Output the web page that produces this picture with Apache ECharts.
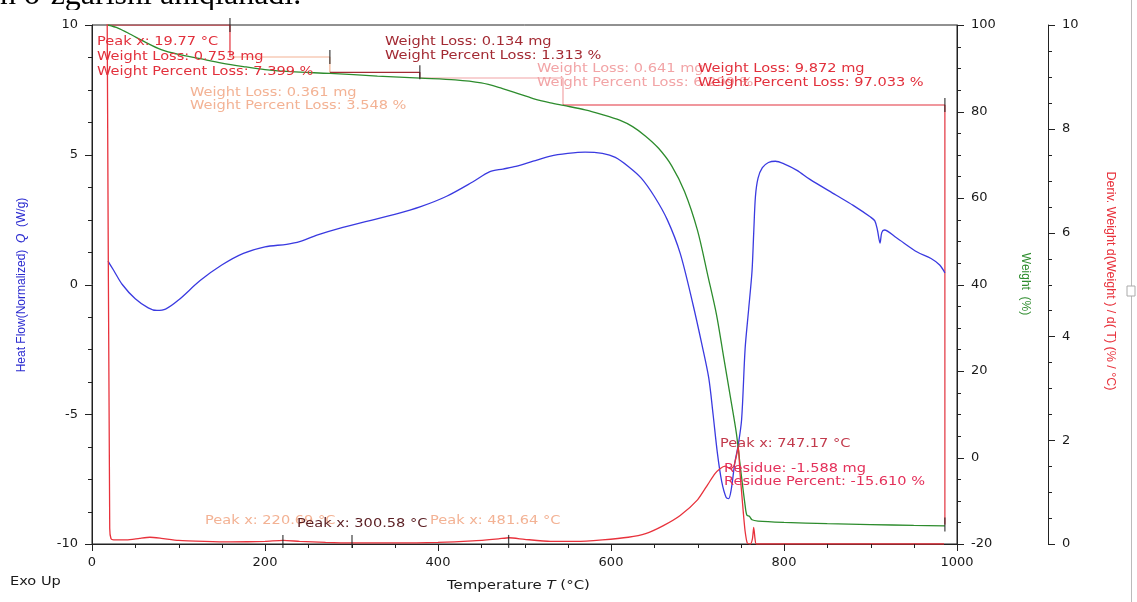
<!DOCTYPE html>
<html>
<head>
<meta charset="utf-8">
<script src="https://cdn.jsdelivr.net/npm/echarts@6/dist/echarts.min.js"></script>
<style>
html,body{margin:0;padding:0;background:#fff;}
#chart{width:1137px;height:602px;}
</style>
</head>
<body>
<div id="chart"></div>
<script>
// ---- Data ----
// Heat flow (W/g) vs temperature (°C)
const heatFlowT = [18.5,25,35,50,65,75,85,100,125,150,175,200,225,240,260,290,320,350,380,410,440,460,475,490,510,530,550,570,590,605,620,635,650,665,680,695,705,713,718,723,728,733,736,739,743,747,751,755,759,763,765,767,770,775,782,790,800,815,830,860,880,900,905,908,911,913,916,930,954,970,980,986];
const heatFlowV = [0.9,0.55,0.0,-0.55,-0.9,-1.0,-0.95,-0.6,0.15,0.75,1.2,1.45,1.55,1.65,1.9,2.2,2.45,2.7,3.0,3.4,3.95,4.35,4.45,4.55,4.75,4.95,5.05,5.1,5.05,4.9,4.55,4.1,3.4,2.5,1.2,-0.8,-2.3,-3.6,-5.0,-6.5,-7.6,-8.2,-8.25,-7.9,-6.9,-6.2,-5.2,-2.5,-1.0,0.5,2.0,3.4,4.1,4.5,4.7,4.75,4.65,4.4,4.05,3.45,3.05,2.6,2.45,2.1,1.6,2.0,2.1,1.8,1.25,1.0,0.75,0.45];
// Weight (%) vs temperature
const weightT = [18.5,30,45,60,80,100,125,150,175,200,230,275,330,380,420,450,470,490,510,530,545,570,590,610,625,640,655,670,685,700,712,722,730,738,745,750,755,757,760,763,770,800,850,900,950,986];
const weightV = [100,99.3,97.8,96.2,94.3,93.2,92.2,91.2,90.4,89.7,89.2,88.8,88.2,87.7,87.3,86.6,85.6,84.3,83.0,82.0,81.4,80.4,79.3,78.0,76.5,74.3,71.5,67.5,61.5,52.5,42,33,23.5,14,5.5,-3,-11,-13.3,-13.6,-14.4,-14.7,-15.0,-15.3,-15.5,-15.7,-15.8];
// Derivative weight (%/°C) vs temperature
const derivT = [17.5,20.5,22,25,40,55,67,80,100,130,160,200,221,240,270,300,350,400,440,470,482,500,530,560,590,620,640,660,680,700,712,720,726,732,738,742,745,747.17,749,751,753,755,757.5,761,763.5,765,766.5,768,800,900,985];
const derivV = [10.3,0.3,0.1,0.08,0.08,0.11,0.13,0.11,0.07,0.05,0.04,0.05,0.07,0.05,0.03,0.02,0.02,0.03,0.06,0.1,0.12,0.09,0.05,0.05,0.08,0.13,0.2,0.35,0.55,0.85,1.15,1.35,1.45,1.5,1.45,1.5,1.7,1.88,1.4,1.0,0.6,0.25,0.02,0.0,0.1,0.32,0.1,0.0,0.0,0.0,0.0];
// Weight-loss step brackets (°C corners, % levels)
const stepTemps = [18.5,159.5,275,379,544.5,986];
const stepLevels = [100,92.6,89.05,87.74,81.5,-15.5];
const stepColors = ['#e2303c','#f3b294','#a32a33','#f2a4a6','#e2303c'];
const stepTickShown = [true,true,true,false,true];
// Peak markers on the derivative curve
const peakTemps = [220.69,300.58,481.64];
// Axis ticks (labelled interval, minor tick interval)
const xTicks = {min:0,max:1000,major:200,minor:50};
const heatTicks = {min:-10,max:10,major:5,minor:1.25};
const weightTicks = {min:-20,max:100,major:20,minor:5};
const derivTicks = {min:0,max:10,major:2,minor:0.5};

// ---- Build ----
const zip = (a,b)=>a.map((v,i)=>[v,b[i]]);
const axisCol = '#222';
const DERIV_OFFSET = 91;
function valAxis(t, extra, margin){
  return Object.assign({
    type:'value', min:t.min, max:t.max, interval:t.major,
    axisLine:{show:true,onZero:false,lineStyle:{color:axisCol,width:1}},
    axisTick:{show:false},
    splitLine:{show:false},
    axisLabel:{margin:margin,showMinLabel:true,showMaxLabel:true,hideOverlap:false,
      color:'#1a1a1a',fontSize:13,fontFamily:'DejaVu Sans',formatter:v=>String(v)}
  }, extra||{});
}
function tickValues(t){
  const out=[]; const n=Math.round((t.max-t.min)/t.minor);
  for(let i=0;i<=n;i++){const v=t.min+i*t.minor;const r=v/t.major;out.push([v,Math.abs(r-Math.round(r))<1e-6]);}
  return out;
}
const series = [
  {type:'line',name:'Heat Flow',yAxisIndex:0,data:zip(heatFlowT,heatFlowV),showSymbol:false,smooth:0.3,lineStyle:{color:'#3a3ae0',width:1.3},z:4},
  {type:'line',name:'Weight',yAxisIndex:1,data:zip(weightT,weightV),showSymbol:false,smooth:0.3,lineStyle:{color:'#2d8c2d',width:1.3},z:4},
  {type:'line',name:'Deriv',yAxisIndex:2,data:zip(derivT,derivV),showSymbol:false,smooth:0.2,lineStyle:{color:'#e8323c',width:1.3},z:5,clip:true}
];
for(let i=0;i<stepTemps.length-1;i++){
  series.push({type:'line',yAxisIndex:1,showSymbol:false,silent:true,z:3,
    data:[[stepTemps[i],stepLevels[i]],[stepTemps[i+1],stepLevels[i]],[stepTemps[i+1],stepLevels[i+1]]],
    lineStyle:{color:stepColors[i],width:1.2}});
}
const tickPts = [];
for(let i=0;i<stepTemps.length-1;i++){ if(stepTickShown[i]) tickPts.push([stepTemps[i+1],stepLevels[i]]); }
tickPts.push([stepTemps[stepTemps.length-1],stepLevels[stepLevels.length-1]]);
series.push({type:'scatter',yAxisIndex:1,data:tickPts,symbol:'rect',symbolSize:[1.3,14],itemStyle:{color:'#222'},silent:true,z:6});
series.push({type:'scatter',yAxisIndex:2,data:peakTemps.map(t=>[t,0.05]),symbol:'rect',symbolSize:[1.3,13],itemStyle:{color:'#222'},silent:true,z:6});

const annFont = 'DejaVu Sans';
function ann(x,y,text,color){
  return {type:'text',x:x,y:y,z:10,scaleX:1.12,style:{text:text,fill:color,font:'13px "'+annFont+'"',textVerticalAlign:'middle'}};
}
const graphics = [
  {type:'text',x:0,y:-20,z:0,style:{text:'n o`zgarishi aniqlanadi.',fill:'#000',font:'32px "Liberation Serif"',textVerticalAlign:'top'}},
  {type:'rect',shape:{x:0,y:10,width:420,height:8},style:{fill:'#fff'},z:1},
  ann(97,42,'Peak x: 19.77 °C','#e2303c'),
  ann(97,57,'Weight Loss: 0.753 mg','#e2303c'),
  ann(97,72,'Weight Percent Loss: 7.399 %','#e2303c'),
  ann(190,93,'Weight Loss: 0.361 mg','#f3b294'),
  ann(190,106,'Weight Percent Loss: 3.548 %','#f3b294'),
  ann(385,42,'Weight Loss: 0.134 mg','#a32a33'),
  ann(385,56,'Weight Percent Loss: 1.313 %','#a32a33'),
  ann(537,69,'Weight Loss: 0.641 mg','#f2a4a6'),
  ann(537,83,'Weight Percent Loss: 6.299 %','#f2a4a6'),
  ann(698,69,'Weight Loss: 9.872 mg','#e2303c'),
  ann(698,83,'Weight Percent Loss: 97.033 %','#e2303c'),
  ann(720,444,'Peak x: 747.17 °C','#c23a4c'),
  ann(724,469,'Residue: -1.588 mg','#e4305a'),
  ann(724,482,'Residue Percent: -15.610 %','#e4305a'),
  ann(205,521,'Peak x: 220.69 °C','#f3b294'),
  ann(430,521,'Peak x: 481.64 °C','#f3b294'),
  ann(297,524,'Peak x: 300.58 °C','#5a1e22'),
  // axis titles
  {type:'text',x:22,y:285,rotation:Math.PI/2,z:10,style:{
    text:'{a|Heat Flow(Normalized)  }{i|Q}{a|  (W/g)}',align:'center',verticalAlign:'middle',
    rich:{a:{fill:'#2a2ad0',font:'12px "Liberation Sans"'},i:{fill:'#2a2ad0',font:'italic 12px "Liberation Sans"'}}}},
  {type:'text',x:1025,y:284,rotation:-Math.PI/2,z:10,style:{text:'Weight  (%)',fill:'#2d8c2d',font:'12px "Liberation Sans"',align:'center',verticalAlign:'middle'}},
  {type:'text',x:1110,y:281,rotation:-Math.PI/2,z:10,style:{text:'Deriv. Weight d(Weight ) / d( T) (% / °C)',fill:'#e8323c',font:'12.5px "Liberation Sans"',align:'center',verticalAlign:'middle'}},
  {type:'text',x:447,y:586,z:10,scaleX:1.15,style:{
    text:'{a|Temperature }{i|T}{a| (°C)}',align:'left',verticalAlign:'middle',
    rich:{a:{fill:'#1a1a1a',font:'13px "DejaVu Sans"'},i:{fill:'#1a1a1a',font:'italic 13px "DejaVu Sans"'}}}},
  {type:'text',x:10,y:582,z:10,scaleX:1.12,style:{text:'Exo Up',fill:'#1a1a1a',font:'13px "DejaVu Sans"',verticalAlign:'middle'}},
  // right-edge scrollbar remnant
  {type:'line',shape:{x1:1131.5,y1:0,x2:1131.5,y2:602},style:{stroke:'#bbb',lineWidth:1},z:1},
  {type:'rect',shape:{x:1127,y:286,width:8,height:10},style:{fill:'#fff',stroke:'#aaa',lineWidth:1},z:2}
];

const chart = echarts.init(document.getElementById('chart'),null,{renderer:'canvas'});
chart.setOption({
  animation:false,
  backgroundColor:'#fff',
  grid:{left:92,right:180,top:25,bottom:58,show:true,borderColor:axisCol,borderWidth:1,backgroundColor:'transparent'},
  xAxis:valAxis(xTicks,{position:'bottom'},12),
  yAxis:[
    valAxis(heatTicks,{position:'left'},14),
    valAxis(weightTicks,{position:'right',offset:0},14),
    valAxis(derivTicks,{position:'right',offset:DERIV_OFFSET},14)
  ],
  series:series
});

// Axis tick marks (major 7px, minor 4px, outward), positioned through the chart's own scales
const MAJ=7, MIN=4;
const ticksG = [];
const px = v=>chart.convertToPixel({xAxisIndex:0},v);
const py = (i,v)=>chart.convertToPixel({yAxisIndex:i},v);
const xBase = py(0,heatTicks.min), xLeft = px(xTicks.min), xRight = px(xTicks.max);
function seg(x1,y1,x2,y2){ticksG.push({type:'line',z:8,shape:{x1:x1,y1:y1,x2:x2,y2:y2},style:{stroke:axisCol,lineWidth:1}});}
tickValues(xTicks).forEach(([v,m])=>{const x=Math.round(px(v))+0.5;seg(x,xBase,x,xBase+(m?MAJ:MIN));});
tickValues(heatTicks).forEach(([v,m])=>{const y=Math.round(py(0,v))+0.5;seg(xLeft,y,xLeft-(m?MAJ:MIN),y);});
tickValues(weightTicks).forEach(([v,m])=>{const y=Math.round(py(1,v))+0.5;seg(xRight,y,xRight+(m?MAJ:MIN),y);});
tickValues(derivTicks).forEach(([v,m])=>{const y=Math.round(py(2,v))+0.5;const x0=xRight+DERIV_OFFSET;seg(x0,y,x0+(m?MAJ:MIN),y);});

chart.setOption({graphic:graphics.concat(ticksG)});
</script>
</body>
</html>
